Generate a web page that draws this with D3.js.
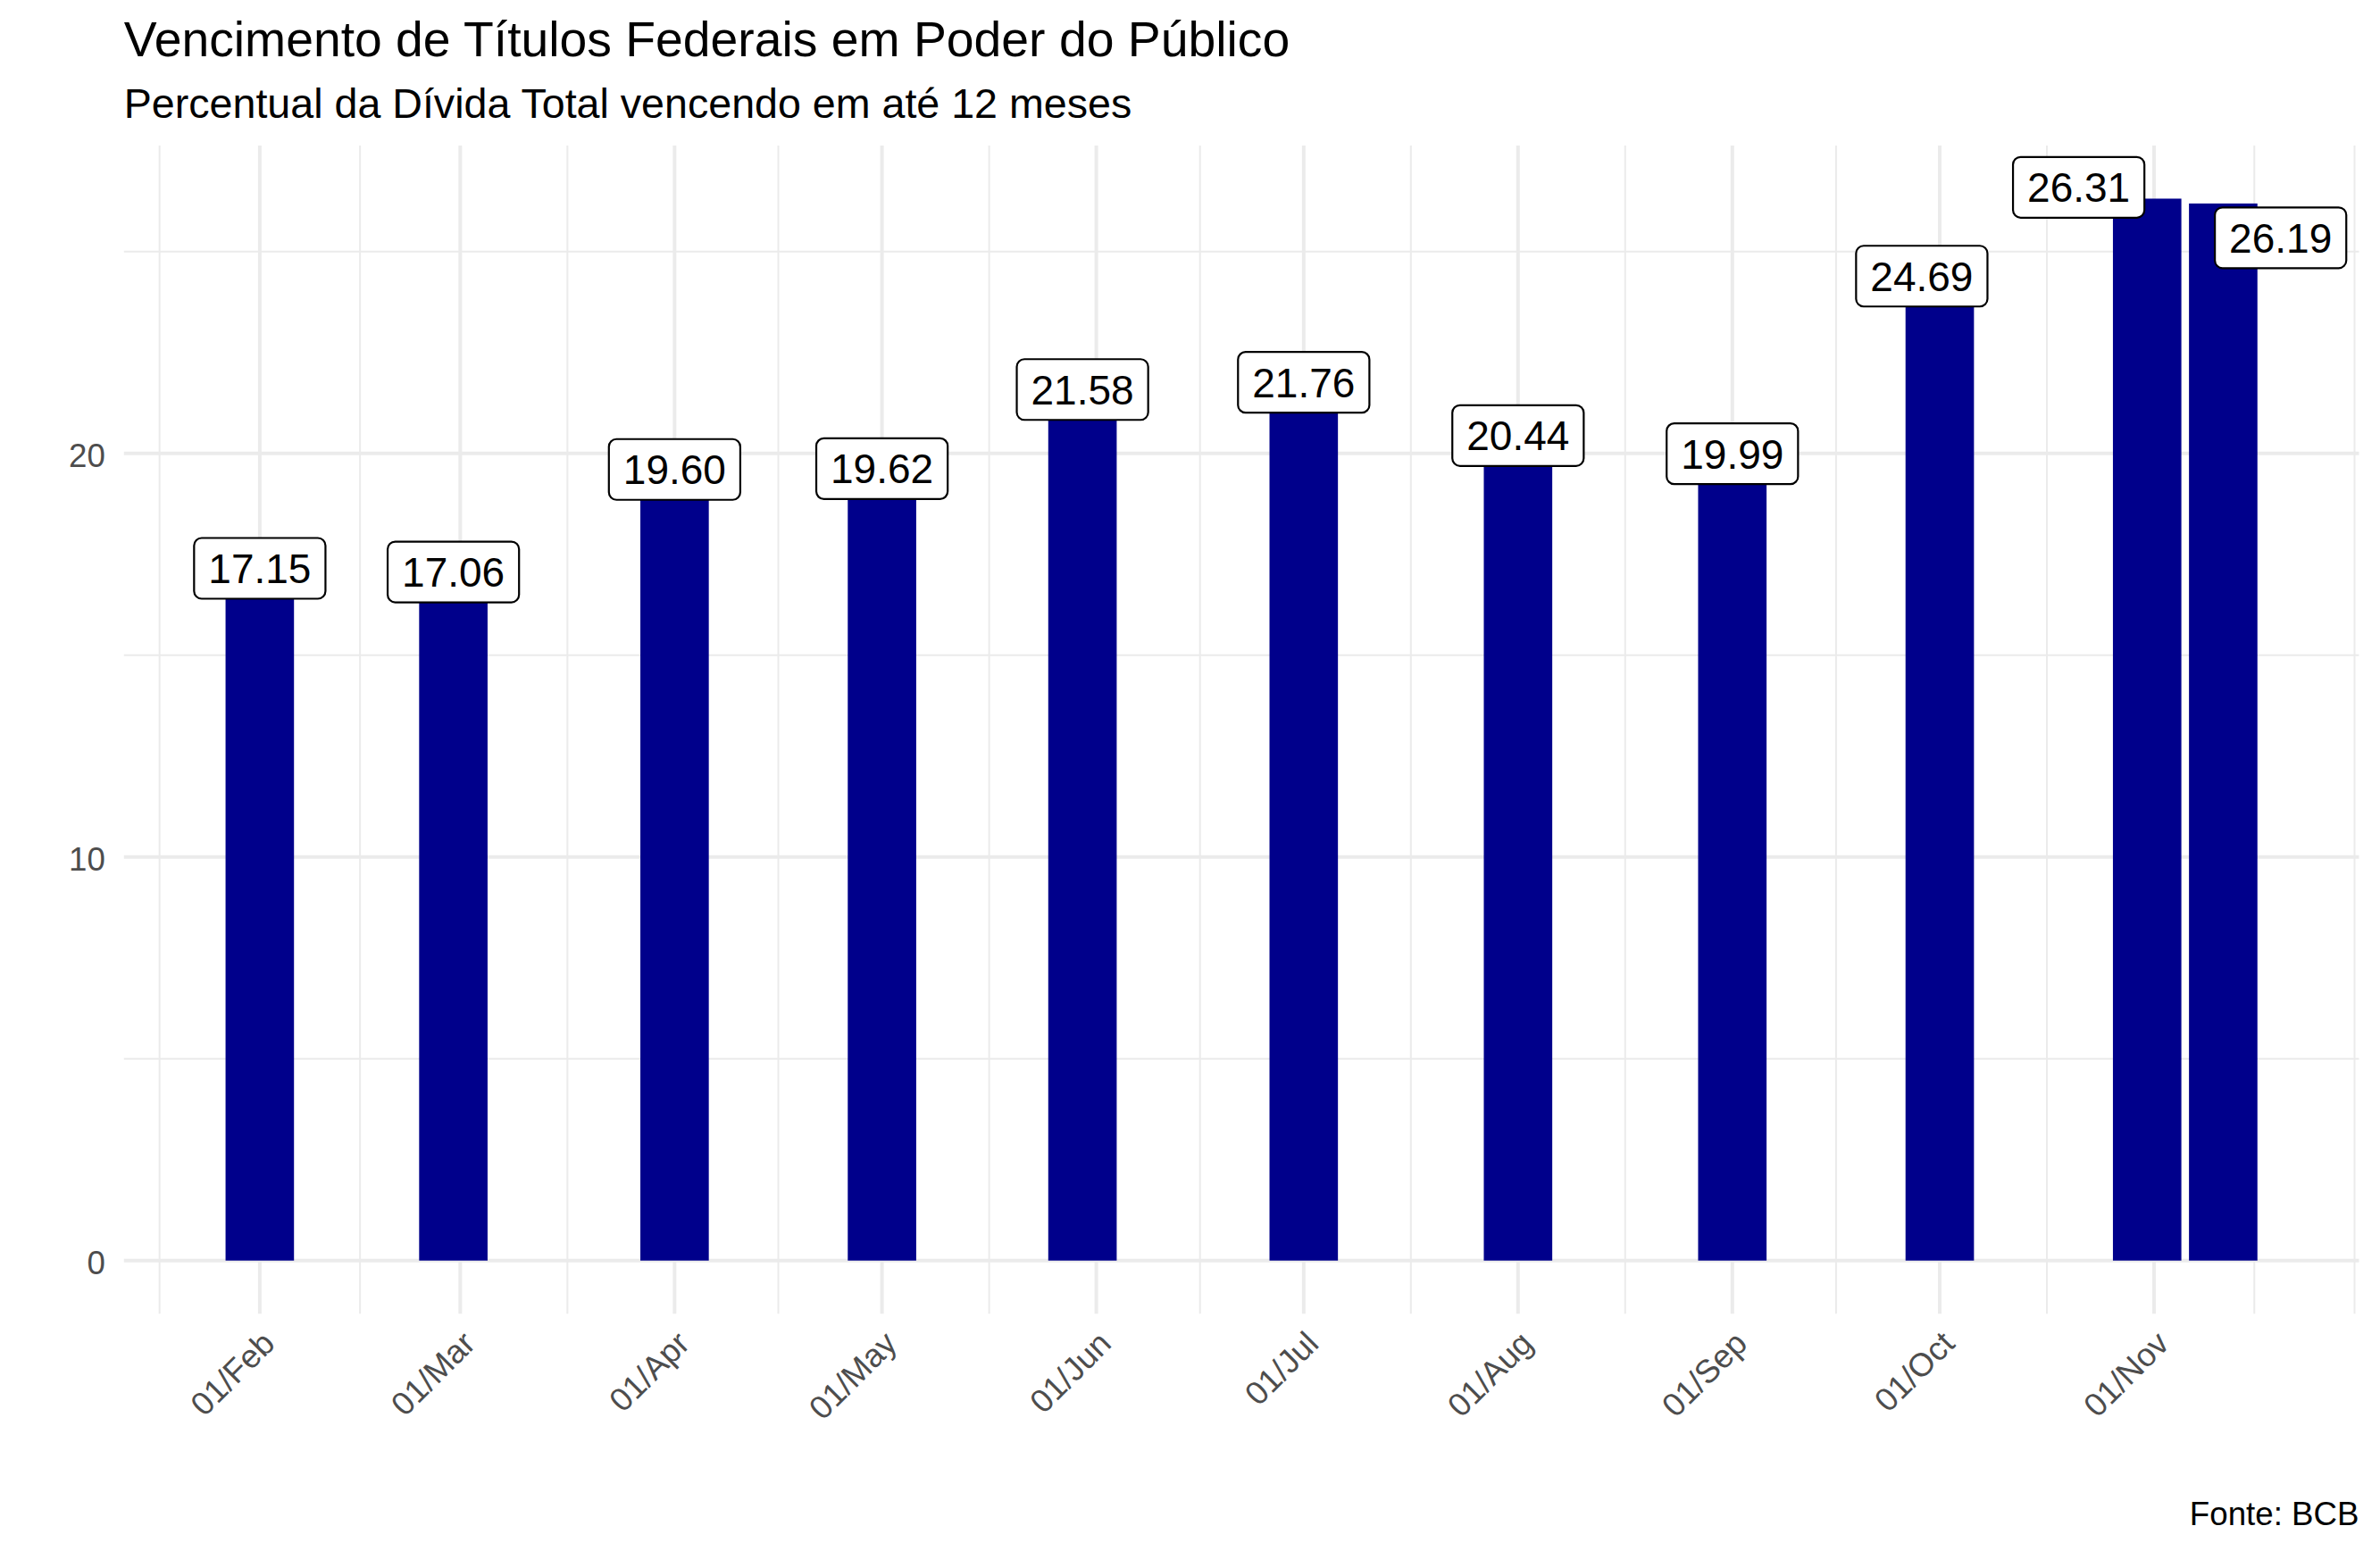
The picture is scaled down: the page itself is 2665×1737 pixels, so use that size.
<!DOCTYPE html>
<html>
<head>
<meta charset="utf-8">
<script src="https://cdn.jsdelivr.net/npm/d3@7"></script>
<style>
  body { margin: 0; background: #fff; }
  text { font-family: "Liberation Sans", Arial, sans-serif; }
</style>
</head>
<body>
<script>
// dates of each observation and % of debt maturing within 12 months
var dates = ["2020-02-01", "2020-02-29", "2020-04-01", "2020-05-01", "2020-05-30",
             "2020-07-01", "2020-08-01", "2020-09-01", "2020-10-01", "2020-10-31", "2020-11-11"];
var values = [17.15, 17.06, 19.60, 19.62, 21.58, 21.76, 20.44, 19.99, 24.69, 26.31, 26.19];

// label shifts (ggrepel pushed some of them aside): days, percentage points
var nudgeDays = [0, 0, 0, 0, 0, 0, 0, 0, -2.6, -9.9, 8.3];
var nudgeValue = [0, 0, 0, 0, 0, 0, 0, 0, -0.30, 0.28, -0.85];

var yBreaks = [0, 10, 20];

var title = "Vencimento de Títulos Federais em Poder do Público";
var subtitle = "Percentual da Dívida Total vencendo em até 12 meses";
var caption = "Fonte: BCB";

var w = 2665, h = 1737;
var pLeft = 138.8, pRight = 2641.5, pTop = 163, pBottom = 1471.2;
var DAY = 864e5;

var parse = d3.utcParse("%Y-%m-%d");
var data = dates.map(function(d, i) {
  return {date: parse(d), value: values[i], dx: nudgeDays[i], dy: nudgeValue[i]};
});

// bar width like ggplot: 0.9 * smallest gap between dates
var times = data.map(function(d) { return +d.date; });
var res = d3.min(d3.pairs(times), function(p) { return p[1] - p[0]; });
var half = res * 0.45;

var x0 = d3.min(times) - half, x1 = d3.max(times) + half;
var xpad = (x1 - x0) * 0.05;
var x = d3.scaleUtc()
  .domain([new Date(x0 - xpad), new Date(x1 + xpad)])
  .range([pLeft, pRight]);

var ymax = d3.max(values);
var y = d3.scaleLinear()
  .domain([-ymax * 0.05, ymax * 1.05])
  .range([pBottom, pTop]);

var svg = d3.select("body").append("svg")
  .attr("width", w)
  .attr("height", h);

svg.append("rect").attr("width", w).attr("height", h).attr("fill", "#fff");

// major / minor breaks
var xMajor = x.ticks(d3.utcMonth.every(1));
var xm = xMajor.map(function(d) { return +d; });
var bd = xm[1] - xm[0];
var ext = [xm[0] - bd].concat(xm, [xm[xm.length - 1] + bd]);
var xMinor = [];
d3.pairs(ext).forEach(function(p) { xMinor.push((p[0] + p[1]) / 2); });
xMinor.push(ext[ext.length - 1]);
xMinor = xMinor.filter(function(t) { return t >= +x.domain()[0] && t <= +x.domain()[1]; });

var yMinor = [];
var yext = [yBreaks[0] - 10].concat(yBreaks, [yBreaks[yBreaks.length - 1] + 10]);
d3.pairs(yext).forEach(function(p) { yMinor.push((p[0] + p[1]) / 2); });
yMinor = yMinor.filter(function(v) { return v >= y.domain()[0] && v <= y.domain()[1]; });

var grid = svg.append("g").attr("stroke", "#ebebeb").attr("fill", "none");

grid.selectAll(".xminor").data(xMinor).enter().append("line")
  .attr("x1", function(d) { return x(new Date(d)); })
  .attr("x2", function(d) { return x(new Date(d)); })
  .attr("y1", pTop).attr("y2", pBottom)
  .attr("stroke-width", 2);

grid.selectAll(".yminor").data(yMinor).enter().append("line")
  .attr("x1", pLeft).attr("x2", pRight)
  .attr("y1", function(d) { return y(d); })
  .attr("y2", function(d) { return y(d); })
  .attr("stroke-width", 2);

grid.selectAll(".xmajor").data(xMajor).enter().append("line")
  .attr("x1", function(d) { return x(d); })
  .attr("x2", function(d) { return x(d); })
  .attr("y1", pTop).attr("y2", pBottom)
  .attr("stroke-width", 4);

grid.selectAll(".ymajor").data(yBreaks).enter().append("line")
  .attr("x1", pLeft).attr("x2", pRight)
  .attr("y1", function(d) { return y(d); })
  .attr("y2", function(d) { return y(d); })
  .attr("stroke-width", 4);

// bars
svg.selectAll(".bar").data(data).enter().append("rect")
  .attr("x", function(d) { return x(new Date(+d.date - half)); })
  .attr("width", function(d) { return x(new Date(+d.date + half)) - x(new Date(+d.date - half)); })
  .attr("y", function(d) { return y(d.value); })
  .attr("height", function(d) { return y(0) - y(d.value); })
  .attr("fill", "#00008b");

// labels
var fs = 46;
var lab = svg.selectAll(".lab").data(data).enter().append("g")
  .attr("transform", function(d) {
    return "translate(" + x(new Date(+d.date + d.dx * DAY)) + "," + y(d.value + d.dy) + ")";
  });

lab.append("text")
  .attr("text-anchor", "middle")
  .attr("dy", "0.36em")
  .attr("font-size", fs)
  .attr("fill", "#000")
  .text(function(d) { return d.value.toFixed(2); });

lab.each(function() {
  var g = d3.select(this);
  var bb = g.select("text").node().getBBox();
  var padX = 16, hh = 34;
  g.insert("rect", "text")
    .attr("x", bb.x - padX)
    .attr("width", bb.width + 2 * padX)
    .attr("y", -hh)
    .attr("height", 2 * hh)
    .attr("rx", 8.5)
    .attr("fill", "#fff")
    .attr("stroke", "#000")
    .attr("stroke-width", 2.2);
});

// axes text
var axisFs = 36.7;
svg.selectAll(".ylab").data(yBreaks).enter().append("text")
  .attr("x", pLeft - 21)
  .attr("y", function(d) { return y(d); })
  .attr("dy", "0.41em")
  .attr("text-anchor", "end")
  .attr("font-size", axisFs)
  .attr("fill", "#4d4d4d")
  .text(function(d) { return d; });

var fmt = d3.utcFormat("%d/%b");
svg.selectAll(".xlab").data(xMajor).enter().append("text")
  .attr("transform", function(d) {
    return "translate(" + x(d) + "," + (pBottom + 17) + ") rotate(-45)";
  })
  .attr("dy", "0.72em")
  .attr("text-anchor", "end")
  .attr("font-size", axisFs)
  .attr("fill", "#4d4d4d")
  .text(function(d) { return fmt(d); });

// titles
svg.append("text")
  .attr("x", pLeft).attr("y", 63)
  .attr("font-size", 55.3)
  .attr("fill", "#000")
  .text(title);

svg.append("text")
  .attr("x", pLeft).attr("y", 131.5)
  .attr("font-size", 46.6)
  .attr("fill", "#000")
  .text(subtitle);

svg.append("text")
  .attr("x", pRight).attr("y", 1708)
  .attr("text-anchor", "end")
  .attr("font-size", axisFs)
  .attr("fill", "#000")
  .text(caption);
</script>
</body>
</html>
